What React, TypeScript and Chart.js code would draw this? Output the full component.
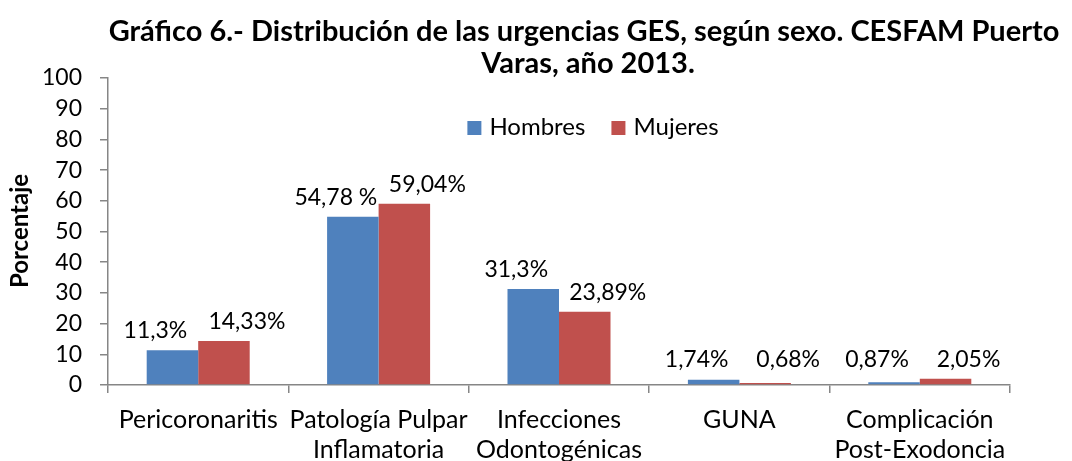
import React, { useEffect, useRef } from "react";
import { Chart, registerables } from "chart.js";

Chart.register(...registerables);

const TITLE_LINES = [
  "Gráfico 6.- Distribución de las urgencias GES, según sexo. CESFAM Puerto",
  "Varas, año 2013.",
];
const CATEGORIES = [
  ["Pericoronaritis"],
  ["Patología Pulpar", "Inflamatoria"],
  ["Infecciones", "Odontogénicas"],
  ["GUNA"],
  ["Complicación", "Post-Exodoncia"],
];
const SERIES_NAMES = ["Hombres", "Mujeres"];
const HOMBRES = [11.3, 54.78, 31.3, 1.74, 0.87];
const MUJERES = [14.33, 59.04, 23.89, 0.68, 2.05];
const HOMBRES_LABELS = ["11,3%", "54,78 %", "31,3%", "1,74%", "0,87%"];
const MUJERES_LABELS = ["14,33%", "59,04%", "23,89%", "0,68%", "2,05%"];
const Y_MIN = 0;
const Y_MAX = 100;
const Y_STEP = 10;
const Y_TITLE = "Porcentaje";

const BLUE = "#4F81BD";
const RED = "#C0504D";
const AXIS = "#868686";
const FONT = "Lato";

const W = 1072;
const H = 461;

const overlayPlugin = {
  id: "overlay",
  afterDatasetsDraw(chart: any) {
    const ctx = chart.ctx;
    const yScale = chart.scales.y;
    const labelSets = [HOMBRES_LABELS, MUJERES_LABELS];
    const offsets = [-17, 23];
    ctx.save();
    ctx.fillStyle = "#000";
    ctx.font = `23px ${FONT}`;
    ctx.textAlign = "center";
    ctx.textBaseline = "alphabetic";
    chart.data.datasets.forEach((_ds: any, di: number) => {
      const meta = chart.getDatasetMeta(di);
      meta.data.forEach((el: any, i: number) => {
        const top = Math.min(el.y, yScale.getPixelForValue(2));
        ctx.fillText(labelSets[di][i], el.x + offsets[di], top - 12);
      });
    });
    ctx.restore();
  },
  afterDraw(chart: any) {
    const ctx = chart.ctx;
    ctx.save();
    ctx.fillStyle = "#000";
    // title
    ctx.font = `bold 29px ${FONT}`;
    ctx.textAlign = "center";
    ctx.textBaseline = "alphabetic";
    ctx.fillText(TITLE_LINES[0], 584, 41);
    ctx.fillText(TITLE_LINES[1], 588, 73);
    // y title
    ctx.save();
    ctx.translate(20, 231);
    ctx.rotate(-Math.PI / 2);
    ctx.font = `bold 24px ${FONT}`;
    ctx.textBaseline = "middle";
    ctx.fillText(Y_TITLE, 0, 0);
    ctx.restore();
    // legend
    ctx.font = `24px ${FONT}`;
    ctx.textAlign = "left";
    ctx.textBaseline = "alphabetic";
    const colors = [BLUE, RED];
    const box = 14;
    const gapBoxText = 8;
    const gapItems = 26;
    const widths = SERIES_NAMES.map((n) => ctx.measureText(n).width);
    const total = widths.reduce((a, w) => a + box + gapBoxText + w, 0) + gapItems * (SERIES_NAMES.length - 1);
    let x = 593 - total / 2;
    SERIES_NAMES.forEach((n, i) => {
      ctx.fillStyle = colors[i];
      ctx.fillRect(x, 121, box, box);
      ctx.fillStyle = "#000";
      ctx.fillText(n, x + box + gapBoxText, 135);
      x += box + gapBoxText + widths[i] + gapItems;
    });
    ctx.restore();
  },
};

export default function App() {
  const ref = useRef<HTMLCanvasElement | null>(null);
  useEffect(() => {
    if (!ref.current) return;
    const chart = new Chart(ref.current, {
      type: "bar",
      data: {
        labels: CATEGORIES,
        datasets: [
          { label: SERIES_NAMES[0], data: HOMBRES, backgroundColor: BLUE, borderWidth: 0 },
          { label: SERIES_NAMES[1], data: MUJERES, backgroundColor: RED, borderWidth: 0 },
        ],
      },
      options: {
        responsive: false,
        animation: false,
        devicePixelRatio: 1,
        layout: { padding: { top: 78, right: 62, bottom: 0, left: 0 } },
        plugins: {
          legend: { display: false },
          title: { display: false },
          tooltip: { enabled: false },
        },
        datasets: {
          bar: { barPercentage: 1, categoryPercentage: 0.571 },
        },
        scales: {
          x: {
            grid: {
              offset: true,
              drawOnChartArea: false,
              drawTicks: true,
              tickLength: 8,
              color: AXIS,
              lineWidth: 1.5,
            },
            border: { display: true, color: AXIS, width: 1.5 },
            ticks: {
              color: "#000",
              font: { family: FONT, size: 25, lineHeight: 1.2 },
              padding: 12,
              maxRotation: 0,
              autoSkip: false,
            },
            afterFit: (s: any) => {
              s.height = H - 385;
            },
          },
          y: {
            min: Y_MIN,
            max: Y_MAX,
            ticks: {
              stepSize: Y_STEP,
              color: "#000",
              font: { family: FONT, size: 23 },
              padding: 18,
            },
            grid: {
              drawOnChartArea: false,
              drawTicks: true,
              tickLength: 8,
              color: AXIS,
              lineWidth: 1.5,
            },
            border: { display: true, color: AXIS, width: 1.5 },
            afterFit: (s: any) => {
              s.width = 108;
            },
          },
        },
      },
      plugins: [overlayPlugin],
    });
    return () => chart.destroy();
  }, []);
  return (
    <div style={{ position: "fixed", left: 0, top: 0, width: W, height: H, background: "#fff" }}>
      <canvas ref={ref} width={W} height={H} style={{ width: W, height: H, display: "block" }} />
    </div>
  );
}
